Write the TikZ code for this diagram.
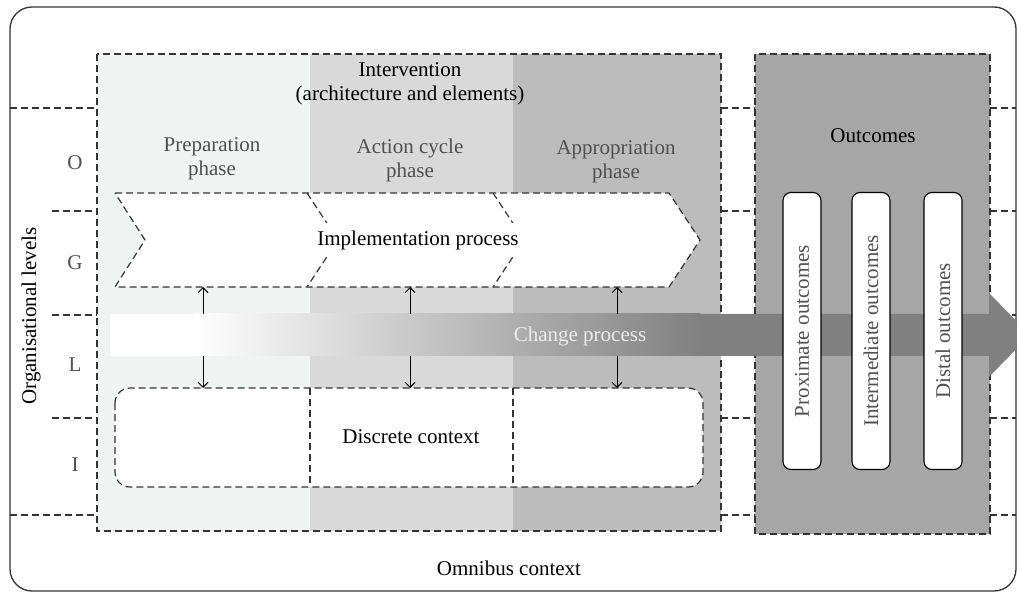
\documentclass[tikz,border=0pt]{standalone}
\usepackage{fontspec}
\setmainfont{Liberation Serif}
\usetikzlibrary{arrows.meta}
\definecolor{prepgray}{HTML}{F1F2F2}
\definecolor{actgray}{HTML}{D9D9D9}
\definecolor{appgray}{HTML}{BCBCBC}
\definecolor{outgray}{HTML}{A6A6A6}
\definecolor{bandgray}{HTML}{808080}
\definecolor{linegray}{HTML}{333333}
\definecolor{textgray}{HTML}{505050}
\begin{document}
\begin{tikzpicture}[x=1pt,y=-1pt,
    every node/.style={font=\fontsize{21}{24}\selectfont},
    lvl/.style={draw=linegray,line width=1.2pt,dash pattern=on 7pt off 4pt},
    phase/.style={text=textgray,align=center},
    tick/.style={-{Straight Barb[length=5pt,width=10pt]},line width=0.9pt},
    outbox/.style={draw=black,fill=white,line width=1.1pt,rounded corners=8pt,rotate=90,
        minimum width=277pt,minimum height=38pt,inner sep=0pt,text=textgray}]
        \useasboundingbox (0,0) rectangle (1017,593);
        \draw[linegray,line width=1.3pt,rounded corners=22pt] (10,7) rectangle (1016,591);
        \foreach \y/\x in {108/10,211/52,315/52,418/52,515/10} {
            \draw[lvl] (\x,\y) -- (97,\y);
            \draw[lvl] (721,\y) -- (755,\y);
            \draw[lvl] (990,\y) -- (1016,\y);
        }
        \fill[prepgray] (97,54) rectangle (310,531);
        \fill[actgray] (310,54) rectangle (513,531);
        \fill[appgray] (513,54) rectangle (721,531);
        \draw[lvl] (97,54) rectangle (721,531);
        \fill[outgray] (755,54) rectangle (990,534);
        \draw[lvl] (755,54) rectangle (990,534);
        \fill[white] (110,314) rectangle (195,356);
        \shade[left color=white,right color=bandgray] (195,314) rectangle (700,356);
        \fill[bandgray] (700,314) -- (989,314) -- (989,293) -- (1030,335) -- (989,377) -- (989,356) -- (700,356) -- cycle;
        \node[text=white!92!black] (change) at (580,336) {Change process};
        \draw[lvl,fill=white] (115,193) -- (669,193) -- (700,240) -- (669,287) -- (115,287) -- (145,240) -- cycle;
        \draw[lvl] (307,193) -- (338,240) -- (307,287);
        \draw[lvl] (493,193) -- (524,240) -- (493,287);
        \node[fill=white,minimum width=218pt,minimum height=34pt] (impl) at (418,240) {Implementation process};
        \draw[lvl,fill=white,rounded corners=15pt] (115,388) rectangle (703,487);
        \draw[lvl] (310,388) -- (310,487);
        \draw[lvl] (513,388) -- (513,487);
        \node (discrete) at (411,437) {Discrete context};
        \foreach \x [count=\i] in {203,410,617} {
            \coordinate (bandtop\i) at (\x,314);
            \coordinate (bandbot\i) at (\x,356);
            \coordinate (impl\i) at (\x,287);
            \coordinate (ctx\i) at (\x,388);
            \draw[tick] (bandtop\i) -- (impl\i);
            \draw[tick] (bandbot\i) -- (ctx\i);
        }
        \node[align=center] (interv) at (410,84) {Intervention\\(architecture and elements)};
        \node[phase] (prep) at (212,159) {Preparation\\phase};
        \node[phase] (act) at (410,160) {Action cycle\\phase};
        \node[phase] (appr) at (616,162) {Appropriation\\phase};
        \foreach \l/\y in {O/163,G/263,L/365,I/465}
            \node[text=textgray] (lev\l) at (75,\y) {\l};
        \node[rotate=90] (orglev) at (31,316) {Organisational levels};
        \node (outc) at (873,136) {Outcomes};
        \node (omni) at (509,568) {Omnibus context};
        \node[outbox] (prox) at (802,331) {Proximate outcomes};
        \node[outbox] (inter) at (871,331) {Intermediate outcomes};
        \node[outbox] (dist) at (943,331) {Distal outcomes};
    \end{tikzpicture}
\end{document}
